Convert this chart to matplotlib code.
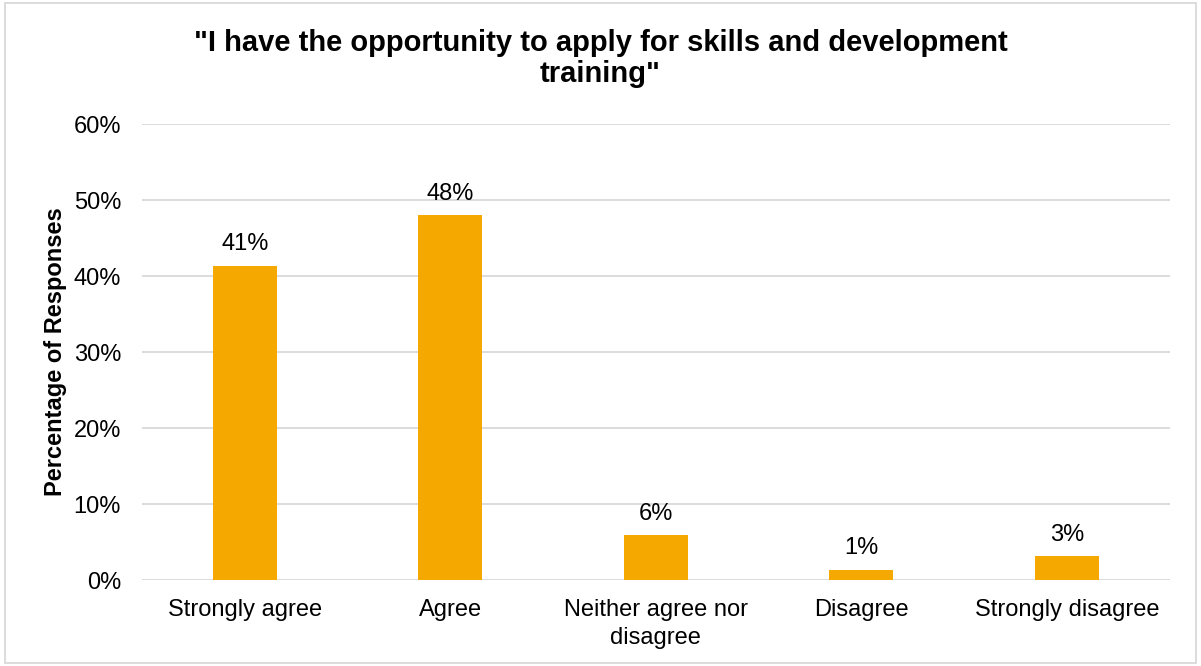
import matplotlib.pyplot as plt
from matplotlib.patches import Rectangle

categories = ['Strongly agree', 'Agree', 'Neither agree nor\ndisagree', 'Disagree', 'Strongly disagree']
values = [41.3, 48.0, 5.9, 1.3, 3.1]
yticks = [0, 10, 20, 30, 40, 50, 60]

plt.rcParams['font.family'] = ['Liberation Sans', 'DejaVu Sans']

fig = plt.figure(figsize=(12.01, 6.66), dpi=100)
ax = fig.add_axes([0.1182, 0.1291, 0.8556, 0.6847])

x = range(len(categories))
bars = ax.bar(x, values, width=0.31, color='#F5A800', zorder=3)

for b, v in zip(bars, values):
    ax.text(b.get_x() + b.get_width() / 2, v + 1.4, f'{v:.0f}%',
            ha='center', va='bottom', fontsize=17, color='#000000')

ax.set_xlim(-0.5, len(categories) - 0.5)
ax.set_ylim(0, 60)
ax.set_yticks(yticks)
ax.set_yticklabels([f'{t}%' for t in yticks], fontsize=17)
ax.set_xticks(list(x))
ax.set_xticklabels(categories, fontsize=17, linespacing=1.35)
ax.tick_params(axis='x', length=0, pad=14)
ax.tick_params(axis='y', length=0, pad=15)
ax.grid(axis='y', color='#d9d9d9', linewidth=1.3, zorder=0)
for s in ax.spines.values():
    s.set_visible(False)

ax.set_ylabel('Percentage of Responses', fontsize=17, fontweight='bold', labelpad=5)
fig.text(0.5, 0.912, '"I have the opportunity to apply for skills and development\ntraining"',
         ha='center', va='center', fontsize=21, fontweight='bold', linespacing=1.15)

# light frame around the whole chart
fig.patches.append(Rectangle((0.004, 0.004), 0.992, 0.992, transform=fig.transFigure,
                             fill=False, edgecolor='#d9d9d9', linewidth=1.3))

fig.savefig('out.png', dpi=100)
